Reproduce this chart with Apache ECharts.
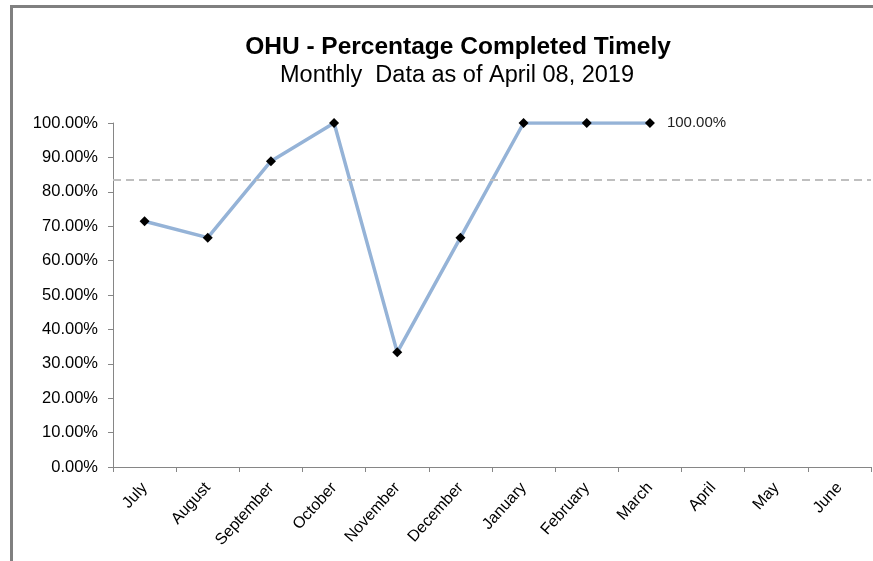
<!DOCTYPE html>
<html><head><meta charset="utf-8">
<script src="https://cdn.jsdelivr.net/npm/echarts@6/dist/echarts.min.js"></script>
<style>html,body{margin:0;padding:0;background:#fff;}#c{width:873px;height:561px;}</style>
</head><body><div id="c"></div>
<script>
var categories = ["July","August","September","October","November","December","January","February","March","April","May","June"];
var values = [71.43, 66.67, 88.89, 100, 33.33, 66.67, 100, 100, 100, null, null, null];
var targetValue = 83.5;
var yTicks = [0,10,20,30,40,50,60,70,80,90,100];
var titleText = "OHU - Percentage Completed Timely";
var subtitleText = "Monthly  Data as of April 08, 2019";

var chart = echarts.init(document.getElementById('c'));
var lastIdx = 8;
chart.setOption({
  animation: false,
  graphic: [{
    type: 'rect', shape: {x: 11.5, y: 6.5, width: 900, height: 600},
    style: {fill: 'none', stroke: '#808080', lineWidth: 3}, silent: true, z: 100
  }],
  title: [{
    text: titleText, left: 453, top: 30, textAlign: 'center',
    textStyle: {fontFamily: 'Liberation Sans', fontWeight: 'bold', fontSize: 24.5, color: '#000'}
  },{
    text: subtitleText, left: 452, top: 59, textAlign: 'center',
    textStyle: {fontFamily: 'Liberation Sans', fontWeight: 'normal', fontSize: 23.5, color: '#000'}
  }],
  grid: {left: 113, right: 2, top: 123, bottom: 94, containLabel: false},
  xAxis: {
    type: 'category', data: categories, boundaryGap: true,
    axisLine: {lineStyle: {color: '#868686', width: 1}},
    axisTick: {show: true, alignWithLabel: false, length: 5, lineStyle: {color: '#868686'}},
    axisLabel: {rotate: 48, fontFamily: 'Liberation Sans', fontSize: 16, color: '#000', margin: 18, interval: 0}
  },
  yAxis: {
    type: 'value', min: 0, max: 100, interval: 10,
    axisLine: {show: true, lineStyle: {color: '#868686'}},
    axisTick: {show: true, length: 5, lineStyle: {color: '#868686'}},
    splitLine: {show: false},
    axisLabel: {fontFamily: 'Liberation Sans', fontSize: 16.5, color: '#000', margin: 15,
      formatter: function(v){ return yTicks.indexOf(v) >= 0 ? v.toFixed(2) + '%' : ''; }}
  },
  series: [{
    type: 'line', data: values.map(function(v, i){
      if (i === lastIdx) return {value: v, label: {show: true, position: 'right', distance: 12,
        formatter: function(p){ return p.value.toFixed(2) + '%'; },
        fontFamily: 'Liberation Sans', fontSize: 15, color: '#222'}};
      return v;
    }),
    symbol: 'diamond', symbolSize: 10, showAllSymbol: true,
    itemStyle: {color: '#000'},
    lineStyle: {color: '#95B3D7', width: 3.5},
    connectNulls: false,
    markLine: {
      symbol: ['none','none'], silent: true, label: {show: false},
      lineStyle: {color: '#BFBFBF', type: [8, 5], width: 2},
      data: [{yAxis: targetValue}]
    }
  }]
});
</script></body></html>
